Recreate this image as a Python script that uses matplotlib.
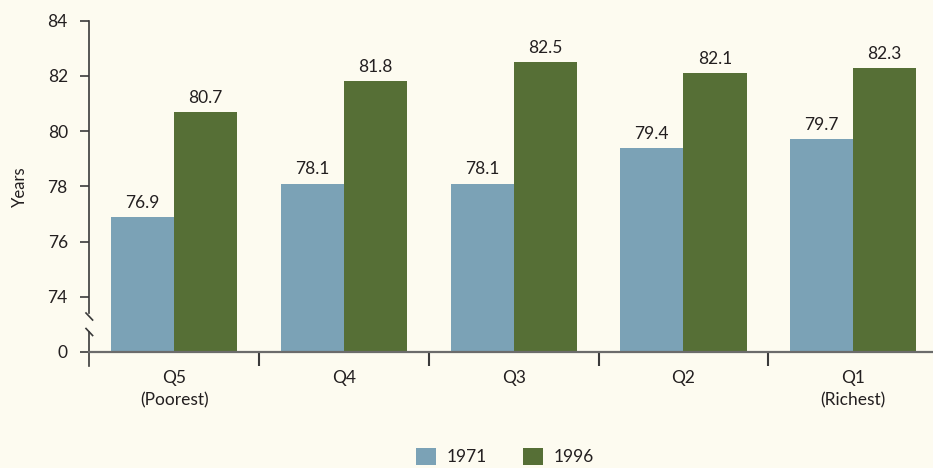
import matplotlib
matplotlib.use("Agg")
import matplotlib.pyplot as plt
from matplotlib.patches import Patch
import numpy as np

categories = ["Q5\n(Poorest)", "Q4", "Q3", "Q2", "Q1\n(Richest)"]
series_names = ["1971", "1996"]
values_1971 = [76.9, 78.1, 78.1, 79.4, 79.7]
values_1996 = [80.7, 81.8, 82.5, 82.1, 82.3]
ytick_values = [72, 74, 76, 78, 80, 82, 84]
ytick_labels = ["0", "74", "76", "78", "80", "82", "84"]

bg = "#FDFBF0"
c1971 = "#7BA2B6"
c1996 = "#566F36"
txt = "#231F20"
axc = "#3a3a3a"
fs = 12.5

plt.rcParams['font.family'] = ['Lato', 'DejaVu Sans']

W, H = 933, 468
fig = plt.figure(figsize=(W / 100, H / 100), dpi=100, facecolor=bg)
left, right = 89.3 / W, 938 / W
top, bottom = 1 - 20.7 / H, 1 - 351.9 / H
ax = fig.add_axes([left, bottom, right - left, top - bottom], facecolor=bg)

base = 72
x = np.arange(len(categories))
w = 0.372
ax.bar(x - w / 2, np.array(values_1971) - base, w, bottom=base, color=c1971, label="1971")
ax.bar(x + w / 2, np.array(values_1996) - base, w, bottom=base, color=c1996, label="1996")

for xi, v in zip(x, values_1971):
    ax.text(xi - w / 2, v + 0.22, f"{v:.1f}", ha="center", va="bottom", fontsize=fs, color=txt)
for xi, v in zip(x, values_1996):
    ax.text(xi + w / 2, v + 0.22, f"{v:.1f}", ha="center", va="bottom", fontsize=fs, color=txt)

ax.set_xlim(-0.5, len(categories) - 0.5)
ax.set_ylim(72, 84)

ax.set_yticks(ytick_values)
ax.set_yticklabels(ytick_labels, fontsize=fs, color=txt)
ax.tick_params(axis="y", length=6.5, width=1.2, color=axc, direction="out", pad=9)
ax.set_ylabel("Years", fontsize=fs - 0.5, color=txt, labelpad=14)

# x ticks: boundaries as major (no labels), category labels as minor
ax.set_xticks(np.arange(0.5, len(categories) - 1, 1.0))
ax.set_xticklabels([])
ax.tick_params(axis="x", which="major", length=10, width=1.5, color=axc, direction="out")
ax.set_xticks(x, minor=True)
ax.set_xticklabels(categories, minor=True, fontsize=fs, color=txt, linespacing=1.5)
ax.tick_params(axis="x", which="minor", length=0, pad=13)

for s in ["top", "right", "left"]:
    ax.spines[s].set_visible(False)
ax.spines["bottom"].set_color("#6b6b6b")
ax.spines["bottom"].set_linewidth(1.6)

# manual y-axis line with break
trans = ax.transAxes
ax.plot([0, 0], [1, (351.9 - 313) / 331.2], transform=trans, color=axc, lw=1.2, clip_on=False)
ax.plot([0, 0], [(351.9 - 332) / 331.2, -14 / 331.2], transform=trans, color=axc, lw=1.2, clip_on=False)
dx = 3.3 / 849
for yc in [316.5, 332]:
    yy = (351.9 - yc) / 331.2
    ax.plot([-dx, dx], [yy + 3.5 / 331.2, yy - 3.5 / 331.2], transform=trans, color=axc, lw=1.2, clip_on=False)

handles = [Patch(facecolor=c1971, label="1971"), Patch(facecolor=c1996, label="1996")]
fig.legend(handles=handles, loc="lower center", bbox_to_anchor=(505 / W, -0.028), ncol=2,
           frameon=False, fontsize=fs, handlelength=1.15, handleheight=1.15,
           columnspacing=2.1, handletextpad=0.6, labelcolor=txt)

fig.savefig("out.png", dpi=100, facecolor=bg)
